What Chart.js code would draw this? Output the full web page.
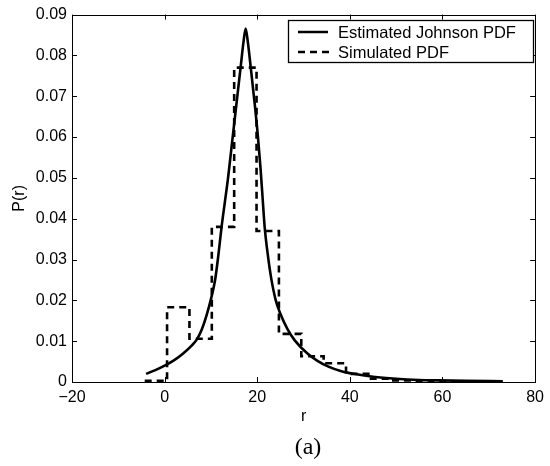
<!DOCTYPE html>
<html>
<head>
<meta charset="utf-8">
<script src="https://cdn.jsdelivr.net/npm/chart.js@4/dist/chart.umd.min.js"></script>
<style>
  html, body { margin: 0; padding: 0; background: #fff; }
  #wrap { width: 550px; height: 466px; position: relative; }
</style>
</head>
<body>
<div id="wrap"><canvas id="c" width="550" height="466"></canvas></div>
<script>
// ---- Data ----
const curveR = [-4, -2, 0, 2, 4, 6, 7, 8, 9.1, 10, 10.9, 11.6, 12.3, 13, 13.7, 14.4, 15.1, 15.8, 16.5, 17.0, 17.5, 18.0, 18.6, 19.4, 20.1, 20.7, 21.2, 21.6, 22.3, 23.0, 24.0, 25.0, 26.5, 28.1, 30.9, 33, 35.5, 38, 40.8, 45, 50, 55, 59, 65, 73];
const curveP = [0.0020, 0.0029, 0.0040, 0.0053, 0.0070, 0.0091, 0.0105, 0.0128, 0.0165, 0.0203, 0.0250, 0.031, 0.038, 0.044, 0.050, 0.057, 0.064, 0.071, 0.078, 0.083, 0.0866, 0.083, 0.077, 0.0687, 0.0607, 0.0525, 0.0444, 0.038, 0.031, 0.0255, 0.020, 0.0167, 0.0130, 0.0102, 0.0069, 0.0052, 0.0037, 0.0027, 0.0020, 0.0013, 0.0008, 0.0005, 0.0004, 0.0003, 0.0002];

const binEdges = [-4.3, 0.53, 5.36, 10.19, 15.02, 19.85, 24.68, 29.51, 34.34, 39.17, 44.0, 48.83, 53.66, 58.49, 63.32, 68.15, 72.98];
const binHeights = [0.0003, 0.0183, 0.0106, 0.038, 0.077, 0.037, 0.0118, 0.0063, 0.0046, 0.0020, 0.0008, 0.0004, 0.0003, 0.0002, 0.0001, 0.0001];

const xTicks = [-20, 0, 20, 40, 60, 80];
const yTicks = [0, 0.01, 0.02, 0.03, 0.04, 0.05, 0.06, 0.07, 0.08, 0.09];

const seriesNames = ['Estimated Johnson PDF', 'Simulated PDF'];
const xLabel = 'r';
const yLabel = 'P(r)';
const caption = '(a)';

// ---- Build datasets ----
const curveData = curveR.map((r, i) => ({x: r, y: curveP[i]}));
const histData = binHeights.map((h, i) => ({x: binEdges[i], y: h}));
histData.push({x: binEdges[binEdges.length - 1], y: binHeights[binHeights.length - 1]});

const FONT = "'Liberation Sans', Arial, Helvetica, sans-serif";

const boxPlugin = {
  id: 'boxTicks',
  afterDatasetsDraw(chart) {
    const {ctx, chartArea: a, scales: {x, y}} = chart;
    ctx.save();
    ctx.strokeStyle = '#000';
    ctx.lineWidth = 1;
    ctx.strokeRect(Math.round(a.left) + 0.5, Math.round(a.top) + 0.5,
                   Math.round(a.right - a.left), Math.round(a.bottom - a.top));
    const L = 5;
    ctx.beginPath();
    xTicks.forEach(v => {
      const px = Math.round(x.getPixelForValue(v)) + 0.5;
      ctx.moveTo(px, a.bottom); ctx.lineTo(px, a.bottom - L);
      ctx.moveTo(px, a.top); ctx.lineTo(px, a.top + L);
    });
    yTicks.forEach(v => {
      const py = Math.round(y.getPixelForValue(v)) + 0.5;
      ctx.moveTo(a.left, py); ctx.lineTo(a.left + L, py);
      ctx.moveTo(a.right, py); ctx.lineTo(a.right - L, py);
    });
    ctx.stroke();

    // legend
    const lx0 = 288.5, ly0 = 20.5, lw = 245, lh = 42;
    ctx.fillStyle = '#fff';
    ctx.fillRect(lx0, ly0, lw, lh);
    ctx.lineWidth = 1.3;
    ctx.strokeRect(lx0, ly0, lw, lh);
    const rows = [32, 52];
    ctx.lineWidth = 2.5;
    ctx.beginPath();
    ctx.setLineDash([]);
    ctx.moveTo(298, rows[0]); ctx.lineTo(328, rows[0]);
    ctx.stroke();
    ctx.beginPath();
    ctx.setLineDash([7, 5]);
    ctx.moveTo(298, rows[1]); ctx.lineTo(330, rows[1]);
    ctx.stroke();
    ctx.setLineDash([]);
    ctx.fillStyle = '#000';
    ctx.font = "16.5px " + FONT;
    ctx.textBaseline = 'middle';
    ctx.textAlign = 'left';
    ctx.fillText(seriesNames[0], 338, rows[0] + 1);
    ctx.fillText(seriesNames[1], 338, rows[1] + 1);

    // caption
    ctx.font = "24px 'Liberation Serif', 'DejaVu Serif', serif";
    ctx.textAlign = 'center';
    ctx.fillText(caption, 308, 448);
    ctx.restore();
  }
};

new Chart(document.getElementById('c'), {
  type: 'line',
  data: {
    datasets: [
      {
        label: seriesNames[0],
        data: curveData,
        borderColor: '#000',
        borderWidth: 2.6,
        pointRadius: 0,
        fill: false,
        tension: 0.4,
        cubicInterpolationMode: 'monotone'
      },
      {
        label: seriesNames[1],
        data: histData,
        borderColor: '#000',
        borderWidth: 2.6,
        borderDash: [7, 5],
        pointRadius: 0,
        fill: false,
        stepped: 'before'
      }
    ]
  },
  options: {
    responsive: false,
    animation: false,
    events: [],
    layout: { padding: { left: 0, right: 10, top: 13, bottom: 39.4 } },
    plugins: { legend: { display: false }, tooltip: { enabled: false } },
    scales: {
      x: {
        type: 'linear',
        min: -20, max: 80,
        afterBuildTicks: s => { s.ticks = xTicks.map(v => ({value: v})); },
        afterFit: s => { s.height = 44.6; },
        grid: { display: false, drawTicks: false },
        border: { display: false },
        ticks: {
          color: '#000', padding: 6,
          font: { family: FONT, size: 16 },
          callback: v => String(v).replace('-', '\u2212')
        },
        title: { display: true, text: xLabel, color: '#000', padding: 0, font: { family: FONT, size: 16 } }
      },
      y: {
        type: 'linear',
        min: 0, max: 0.09,
        afterBuildTicks: s => { s.ticks = yTicks.map(v => ({value: v})); },
        afterFit: s => { s.width = 72; },
        grid: { display: false, drawTicks: false },
        border: { display: false },
        ticks: {
          color: '#000', padding: 5,
          font: { family: FONT, size: 16 },
          callback: v => (v === 0 ? '0' : v.toFixed(2))
        },
        title: { display: true, text: yLabel, color: '#000', padding: { top: 9.6, bottom: 0 }, font: { family: FONT, size: 16 } }
      }
    }
  },
  plugins: [boxPlugin]
});
</script>
</body>
</html>
